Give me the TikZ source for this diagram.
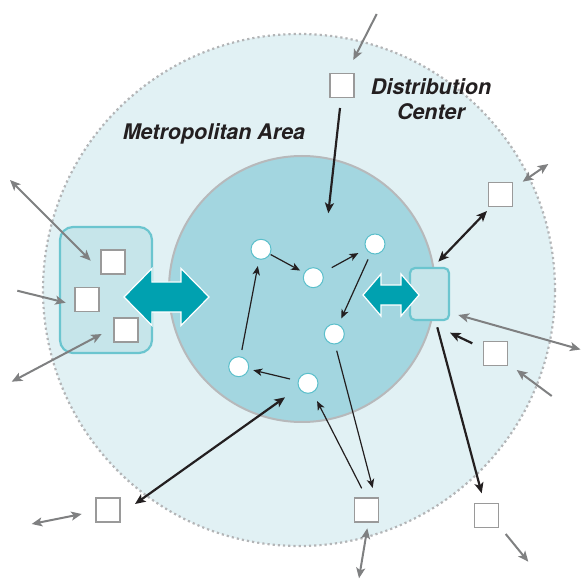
\documentclass[tikz,border=0pt]{standalone}
\usepackage{fontspec}
\setmainfont{TeX Gyre Heros}
\usetikzlibrary{arrows.meta,calc}
\definecolor{outerfill}{HTML}{E1F1F4}
\definecolor{outerline}{HTML}{B3B5B7}
\definecolor{innerfill}{HTML}{A3D6E0}
\definecolor{innerline}{HTML}{B7B9BB}
\definecolor{boxfill}{HTML}{C6E5EA}
\definecolor{boxline}{HTML}{6BC5CF}
\definecolor{circline}{HTML}{5BBFCB}
\definecolor{teal}{HTML}{00A1B0}
\definecolor{sqgray}{HTML}{9A9A9A}
\definecolor{ink}{HTML}{231F20}
\definecolor{gry}{HTML}{7F8081}
\begin{document}
\begin{tikzpicture}[x=1pt,y=-1pt,
  sqbox/.style={draw=sqgray, line width=1.5pt, fill=white, minimum size=24pt, inner sep=0pt, outer sep=0pt},
  dotnode/.style={circle, draw=circline, line width=1pt, fill=white, minimum size=20pt, inner sep=0pt, outer sep=0pt},
  hub/.style={draw=boxline, line width=2.2pt, fill=boxfill, inner sep=0pt, outer sep=0pt},
  lbl/.style={font=\fontsize{21.5}{25}\selectfont\bfseries\itshape, text=ink, align=center, inner sep=0pt},
  thinarr/.style={draw=ink, line width=1.2pt, -{Stealth[length=9pt,width=7.5pt,inset=2.5pt]}},
  thickarr/.style={draw=ink, line width=2.2pt, -{Stealth[length=10.5pt,width=9pt,inset=2.5pt]}},
  thickdbl/.style={draw=ink, line width=2.2pt, {Stealth[length=10.5pt,width=9pt,inset=2.5pt]}-{Stealth[length=10.5pt,width=9pt,inset=2.5pt]}},
  grayarr/.style={draw=gry, line width=2pt, -{Stealth[length=10.5pt,width=9pt,inset=2.5pt]}},
  graydbl/.style={draw=gry, line width=2pt, {Stealth[length=10.5pt,width=9pt,inset=2.5pt]}-{Stealth[length=10.5pt,width=9pt,inset=2.5pt]}},
  bigarrow/.style={fill=teal, draw=white, line width=1.2pt, line join=miter}
]
\useasboundingbox (0,0) rectangle (582,580);

% regions
\path[fill=outerfill] (299,290) circle (256);
\draw[outerline, line width=2.2pt, dash pattern=on 2.2pt off 3pt] (299,290) circle (256);
\draw[fill=innerfill, draw=innerline, line width=2pt] (302,289) circle (133);

% hubs
\node[hub, rounded corners=13pt, minimum width=92pt, minimum height=126pt] (lbox) at (106,290) {};
\node[hub, rounded corners=5pt, minimum width=39pt, minimum height=52pt] (rbox) at (429.5,294) {};

% big double arrows
\draw[bigarrow] (124,297) -- (152,268.5) -- (152,282) -- (181,282) -- (181,268.5) -- (209,297)
  -- (181,325.5) -- (181,312) -- (152,312) -- (152,325.5) -- cycle;
\draw[bigarrow] (363,295) -- (381,274) -- (381,285) -- (401,285) -- (401,274) -- (419,295)
  -- (401,316) -- (401,305) -- (381,305) -- (381,316) -- cycle;

% labels
\node[lbl] (dc) at (431,99.5) {Distribution\\Center};
\node[lbl] (ma) at (214,134) {Metropolitan Area};

% squares
\node[sqbox] (sqa) at (113,262) {};
\node[sqbox] (sqb) at (87,299.5) {};
\node[sqbox] (sqc) at (126,330) {};
\node[sqbox] (topsq) at (342,85.5) {};
\node[sqbox] (trsq) at (500.5,194.5) {};
\node[sqbox] (rsq) at (495.5,353.5) {};
\node[sqbox] (bsql) at (108,510) {};
\node[sqbox] (bsq) at (366.5,510) {};
\node[sqbox] (brsq) at (486.5,515.5) {};

% circles
\node[dotnode] (c1) at (261,249.3) {};
\node[dotnode] (c2) at (313.3,277.7) {};
\node[dotnode] (c3) at (375,244) {};
\node[dotnode] (c4) at (334.3,334) {};
\node[dotnode] (c5) at (238.7,366.7) {};
\node[dotnode] (c6) at (308,383.3) {};

% free ends
\coordinate (tin) at (328.3,213.3);
\coordinate (g1s) at (376.7,14);
\coordinate (g2e) at (548.3,164);
\coordinate (g3s) at (10,180);
\coordinate (g4s) at (17.3,290.7);
\coordinate (g5s) at (11.7,381.7);
\coordinate (g6e) at (580.5,349.5);
\coordinate (g7s) at (551.7,396);
\coordinate (g8s) at (31.7,524);
\coordinate (g9e) at (359,578.3);
\coordinate (g10e) at (528.3,561.7);

% inner circulation
\draw[thinarr, shorten <=1pt, shorten >=5pt] (c1) -- (c2);
\draw[thinarr, shorten <=11pt, shorten >=9pt] (c2) -- (c3);
\draw[thinarr, shorten <=7pt, shorten >=7pt] (c3) -- (c4);
\draw[thinarr, shorten <=8.5pt, shorten >=5pt] (c6) -- (c5);
\draw[thinarr, shorten <=7pt, shorten >=7pt] (c5) -- (c1);
\draw[thinarr] ($(c4)+(2.4,16.7)$) -- ($(bsq)+(6.2,-22)$);
\draw[thinarr, shorten >=10pt] ($(bsq)+(-4.8,-21.7)$) -- (c6);

% black flows
\draw[thickdbl] ($(bsql)+(27,-6)$) -- ($(c6)+(-23,14)$);
\draw[thickarr] ($(topsq)+(-2,22.5)$) -- (tin);
\draw[thickdbl] ($(rbox)+(8.8,-32.3)$) -- ($(trsq)+(-13.5,16.5)$);
\draw[thickarr] ($(rbox)+(7.8,33.3)$) -- ($(brsq)+(-4.8,-22.2)$);
\draw[thickarr] ($(rsq)+(-23.2,-10.2)$) -- ($(rbox)+(20.5,38.7)$);

% gray flows
\draw[grayarr] (g1s) -- ($(topsq)+(11.3,-25.5)$);
\draw[graydbl] ($(trsq)+(22.2,-12.8)$) -- (g2e);
\draw[graydbl] (g3s) -- ($(sqa)+(-22.3,-1.3)$);
\draw[grayarr] (g4s) -- ($(sqb)+(-21.3,3.2)$);
\draw[graydbl] (g5s) -- ($(sqc)+(-24.3,4)$);
\draw[graydbl] ($(rbox)+(28.8,21)$) -- (g6e);
\draw[grayarr] (g7s) -- ($(rsq)+(21.2,16.5)$);
\draw[graydbl] (g8s) -- ($(bsql)+(-26.3,4)$);
\draw[graydbl] ($(bsq)+(0.8,18.3)$) -- (g9e);
\draw[grayarr] ($(brsq)+(19.2,18.5)$) -- (g10e);
\end{tikzpicture}
\end{document}
